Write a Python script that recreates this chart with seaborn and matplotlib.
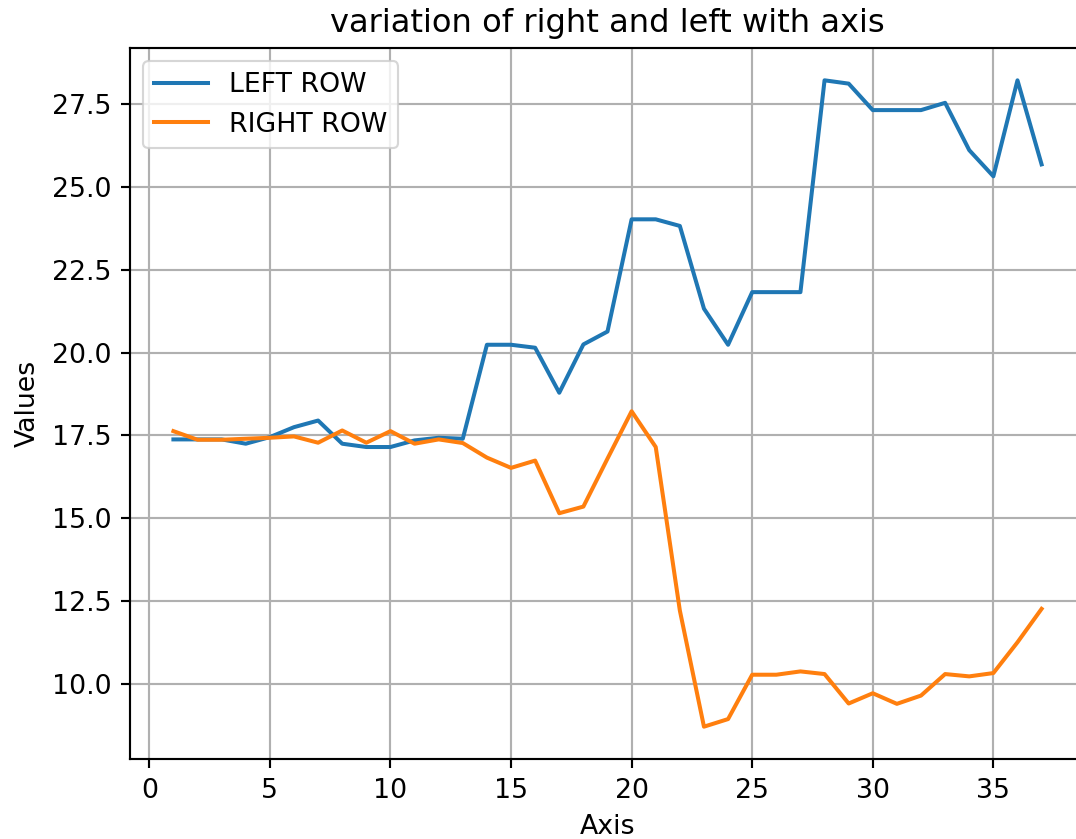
import numpy as np
import pandas as pd
import matplotlib
matplotlib.use("Agg")
import matplotlib.pyplot as plt
import seaborn as sns

axis_vals = list(range(1, 38))
left_row = [17.38, 17.38, 17.38, 17.25, 17.45, 17.75, 17.95, 17.25, 17.15, 17.15,
            17.35, 17.43, 17.40, 20.24, 20.24, 20.15, 18.79, 20.25, 20.64, 24.03,
            24.03, 23.83, 21.33, 20.24, 21.83, 21.83, 21.83, 28.23, 28.13, 27.33,
            27.33, 27.33, 27.55, 26.12, 25.33, 28.23, 25.69]
right_row = [17.63, 17.37, 17.37, 17.40, 17.43, 17.47, 17.28, 17.65, 17.28, 17.63,
             17.25, 17.38, 17.27, 16.83, 16.52, 16.74, 15.15, 15.35, 16.80, 18.23,
             17.15, 12.21, 8.70, 8.93, 10.27, 10.27, 10.37, 10.29, 9.40, 9.71,
             9.39, 9.64, 10.29, 10.22, 10.32, 11.25, 12.26]
series_names = ["LEFT ROW", "RIGHT ROW"]

df = pd.DataFrame({
    "Axis": axis_vals * 2,
    "Values": left_row + right_row,
    "series": [series_names[0]] * len(axis_vals) + [series_names[1]] * len(axis_vals),
})

s = 1.93
plt.rcParams["font.family"] = ["DejaVu Sans"]
fig = plt.figure(figsize=(10.76, 8.39), dpi=100)
ax = fig.add_axes([130 / 1076, 80 / 839, (1085 - 130) / 1076, (759 - 48) / 839])

sns.lineplot(data=df, x="Axis", y="Values", hue="series",
             palette=["#1f77b4", "#ff7f0e"], linewidth=1.5 * s, ax=ax)

ax.grid(True, color="#b0b0b0", linewidth=0.8 * s)
ax.set_axisbelow(True)
for sp in ax.spines.values():
    sp.set_linewidth(0.8 * s)
ax.tick_params(labelsize=10 * s, length=3.5 * s, width=0.8 * s, pad=3.5 * s)
ax.set_xlabel("Axis", fontsize=10 * s, labelpad=4 * s)
ax.set_ylabel("Values", fontsize=10 * s, labelpad=4 * s)
ax.set_title("variation of right and left with axis", fontsize=12 * s, pad=6 * s)
ax.set_yticks([10.0, 12.5, 15.0, 17.5, 20.0, 22.5, 25.0, 27.5])
ax.set_xticks([0, 5, 10, 15, 20, 25, 30, 35])

handles, labels = ax.get_legend_handles_labels()
leg = ax.legend(handles, labels, loc="upper left", fontsize=10 * s,
                frameon=True, framealpha=0.8, edgecolor="#cccccc")
leg.get_frame().set_linewidth(0.8 * s)
for line in leg.get_lines():
    line.set_linewidth(1.5 * s)

fig.savefig("out.png", dpi=100)
